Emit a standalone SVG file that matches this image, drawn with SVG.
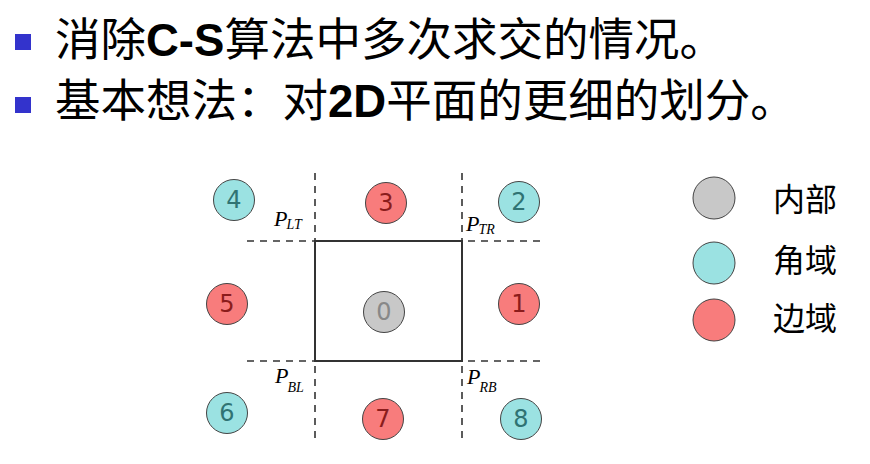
<svg xmlns="http://www.w3.org/2000/svg" width="870" height="464" viewBox="0 0 870 464">
<style>
.title{font-family:"Noto Sans CJK SC","Liberation Sans",sans-serif;font-size:45.5px;fill:#000}
.b{font-family:"Liberation Sans","Noto Sans CJK SC",sans-serif;font-weight:bold}
.bul{fill:#3333cc}
.dash{stroke:#333;stroke-width:1.6;stroke-dasharray:7 6;fill:none}
.rect{stroke:#333;stroke-width:2;fill:none}
.c{stroke:#444;stroke-width:1}
.red{fill:#f87c7c}
.cyan{fill:#9be2e2}
.gray{fill:#c8c8c8}
.num{font-family:"DejaVu Sans","Liberation Sans",sans-serif;font-size:24px;text-anchor:middle}
.nr{fill:#8b1c1c}
.nc{fill:#2f7373}
.ng{fill:#888}
.P{font-family:"Liberation Serif",serif;font-style:italic;font-size:22px;fill:#000}
.sub{font-family:"Liberation Serif",serif;font-style:italic;font-size:14px;fill:#000}
.leg{font-family:"Noto Sans CJK SC",sans-serif;font-size:32px;fill:#000}
</style>
<g id="title">
<rect class="bul" x="15" y="34" width="16" height="16"/>
<text class="title" x="55" y="56">消除<tspan class="b">C-S</tspan>算法中多次求交的情况。</text>
<rect class="bul" x="15" y="97" width="16" height="16"/>
<text class="title" x="55" y="117">基本想法：对<tspan class="b">2D</tspan>平面的更细的划分。</text>
</g>
<g id="connectors">
<line class="dash" x1="247" y1="241" x2="315" y2="241"/>
<line class="dash" x1="468" y1="241" x2="542" y2="241"/>
<line class="dash" x1="247" y1="361" x2="315" y2="361"/>
<line class="dash" x1="468" y1="361" x2="542" y2="361"/>
<line class="dash" x1="315" y1="173" x2="315" y2="241"/>
<line class="dash" x1="462" y1="173" x2="462" y2="241"/>
<line class="dash" x1="315" y1="366" x2="315" y2="440"/>
<line class="dash" x1="462" y1="366" x2="462" y2="440"/>
</g>
<g id="window"><rect class="rect" x="315" y="241" width="147" height="120"/></g>
<g id="labels">
<text class="P" x="274" y="226">P<tspan class="sub" dx="-1" dy="3">LT</tspan></text>
<text class="P" x="466" y="231">P<tspan class="sub" dx="-1" dy="3">TR</tspan></text>
<text class="P" x="275" y="383">P<tspan class="sub" dx="-1" dy="9">BL</tspan></text>
<text class="P" x="467" y="384">P<tspan class="sub" dx="-1" dy="8">RB</tspan></text>
</g>
<g id="n0"><circle class="c gray" cx="384" cy="312" r="20.5"/><text class="num ng" x="384" y="320">0</text></g>
<g id="n1"><circle class="c red" cx="519" cy="304" r="20.5"/><text class="num nr" x="519" y="312">1</text></g>
<g id="n2"><circle class="c cyan" cx="519" cy="202" r="20.5"/><text class="num nc" x="519" y="210">2</text></g>
<g id="n3"><circle class="c red" cx="386" cy="203" r="20.5"/><text class="num nr" x="386" y="211">3</text></g>
<g id="n4"><circle class="c cyan" cx="234" cy="200" r="20.5"/><text class="num nc" x="234" y="208">4</text></g>
<g id="n5"><circle class="c red" cx="227" cy="304" r="20.5"/><text class="num nr" x="227" y="312">5</text></g>
<g id="n6"><circle class="c cyan" cx="227" cy="413" r="20.5"/><text class="num nc" x="227" y="421">6</text></g>
<g id="n7"><circle class="c red" cx="383" cy="419" r="20.5"/><text class="num nr" x="383" y="427">7</text></g>
<g id="n8"><circle class="c cyan" cx="521" cy="419" r="20.5"/><text class="num nc" x="521" y="427">8</text></g>
<g id="legend">
<circle class="c gray" cx="714" cy="198" r="21"/>
<text class="leg" x="773" y="211">内部</text>
<circle class="c cyan" cx="714" cy="263" r="21"/>
<text class="leg" x="773" y="272">角域</text>
<circle class="c red" cx="714" cy="320" r="21"/>
<text class="leg" x="773" y="330">边域</text>
</g>
</svg>
